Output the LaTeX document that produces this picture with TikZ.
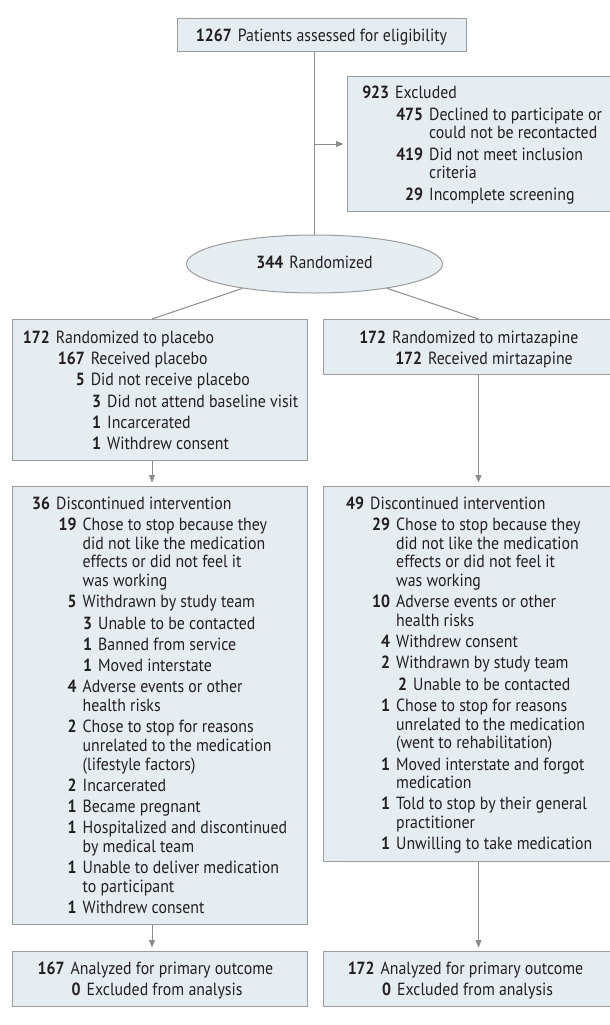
\documentclass[tikz,border=0pt]{standalone}
\usepackage{fontspec}
\setmainfont{PT Sans}[FakeStretch=0.9]
\usetikzlibrary{arrows.meta,shapes.geometric}
\definecolor{boxfill}{HTML}{E6EDF1}
\definecolor{boxline}{HTML}{9C9C9C}
\definecolor{conn}{HTML}{8C8C8C}
\definecolor{ink}{HTML}{231F20}
\newlength{\numgap}\setlength{\numgap}{6pt}
\newcommand{\ent}[3]{\par\noindent\hangindent=#1pt\hangafter=1\hspace*{#1pt}\llap{\textbf{#2}\hspace{\numgap}}#3}
\newcommand{\blist}[1]{\parbox[t]{400pt}{\fontsize{17.6}{18.6}\selectfont\raggedright\let\\\newline\setlength{\parskip}{2.7pt}#1}}
\tikzset{
  box/.style={draw=boxline, fill=boxfill, line width=1pt, inner sep=0pt, anchor=north west},
  txt/.style={inner sep=0pt, anchor=base west, text=ink},
  conn/.style={draw=conn, line width=1pt},
  arrow/.style={conn, -{Triangle[length=7.5pt,width=6pt]}, shorten >=3.5pt},
}
\begin{document}
\begin{tikzpicture}[x=1pt,y=-1pt, font=\fontsize{17.6}{18.6}\selectfont]
\useasboundingbox (0,0) rectangle (610,1025);
\coordinate (lcol) at (152,0);
\coordinate (rcol) at (478.5,0);
% top
\node[box, anchor=center, minimum width=289pt, minimum height=33pt, text=ink, text height=12.3pt, text depth=0pt] (top) at (321.5,35.5) {\textbf{1267}\hspace{\numgap}Patients assessed for eligibility};
% excluded
\node[box, minimum width=265pt, minimum height=135pt] (excl) at (347,76) {};
\node[txt] (exclt) at (347,99) {\blist{%
\ent{48}{923}{Excluded}
\ent{82}{475}{Declined to participate or\\could not be recontacted}
\ent{82}{419}{Did not meet inclusion\\criteria}
\ent{82}{29}{Incomplete screening}}};
% randomized
\node[draw=boxline, fill=boxfill, line width=1pt, ellipse, minimum width=256pt, minimum height=58pt, inner sep=0pt, text=ink, text height=12.3pt, text depth=3pt] (rand) at (314.5,264) {\textbf{344}\hspace{\numgap}Randomized};
% arm boxes 1
\node[box, minimum width=295pt, minimum height=141pt] (pl1) at (12,319) {};
\node[txt] (pl1t) at (12,343.3) {\blist{%
\ent{43.6}{172}{Randomized to placebo}
\ent{78.6}{167}{Received placebo}
\ent{78.6}{5}{Did not receive placebo}
\ent{95}{3}{Did not attend baseline visit}
\ent{95}{1}{Incarcerated}
\ent{95}{1}{Withdrew consent}}};
\node[box, minimum width=290pt, minimum height=55pt] (mi1) at (323,319) {};
\node[txt] (mi1t) at (323,343.3) {\blist{%
\ent{69}{172}{Randomized to mirtazapine}
\ent{105}{172}{Received mirtazapine}}};
% arm boxes 2
\node[box, minimum width=295pt, minimum height=438pt] (pl2) at (12,486) {};
\node[txt] (pl2t) at (12,509.3) {\blist{%
\ent{44}{36}{Discontinued intervention}
\ent{70.5}{19}{Chose to stop because they\\did not like the medication\\effects or did not feel it\\was working}
\ent{70.5}{5}{Withdrawn by study team}
\ent{86}{3}{Unable to be contacted}
\ent{86}{1}{Banned from service}
\ent{86}{1}{Moved interstate}
\ent{70.5}{4}{Adverse events or other\\health risks}
\ent{70.5}{2}{Chose to stop for reasons\\unrelated to the medication\\(lifestyle factors)}
\ent{70.5}{2}{Incarcerated}
\ent{70.5}{1}{Became pregnant}
\ent{70.5}{1}{Hospitalized and discontinued\\by medical team}
\ent{70.5}{1}{Unable to deliver medication\\to participant}
\ent{70.5}{1}{Withdrew consent}}};
\node[box, minimum width=290pt, minimum height=375pt] (mi2) at (323,486) {};
\node[txt] (mi2t) at (323,509.3) {\blist{%
\ent{47}{49}{Discontinued intervention}
\ent{73}{29}{Chose to stop because they\\did not like the medication\\effects or did not feel it\\was working}
\ent{73}{10}{Adverse events or other\\health risks}
\ent{73}{4}{Withdrew consent}
\ent{73}{2}{Withdrawn by study team}
\ent{90}{2}{Unable to be contacted}
\ent{73}{1}{Chose to stop for reasons\\unrelated to the medication\\(went to rehabilitation)}
\ent{73}{1}{Moved interstate and forgot\\medication}
\ent{73}{1}{Told to stop by their general\\practitioner}
\ent{73}{1}{Unwilling to take medication}}};
% analysis boxes
\node[box, minimum width=295pt, minimum height=55pt] (pl3) at (12,951) {};
\node[txt] (pl3t) at (12,974.3) {\blist{%
\ent{58.4}{167}{Analyzed for primary outcome}
\ent{74.4}{0}{Excluded from analysis}}};
\node[box, minimum width=290pt, minimum height=55pt] (mi3) at (323,951) {};
\node[txt] (mi3t) at (323,974.3) {\blist{%
\ent{57.5}{172}{Analyzed for primary outcome}
\ent{74}{0}{Excluded from analysis}}};
% connectors
\draw[conn] (top.south -| rand.north) -- (rand.north);
\draw[arrow] (excl.west -| rand.north) -- (excl.west);
\draw[conn] (rand) -- (pl1.north -| lcol);
\draw[conn] (rand) -- (mi1.north -| rcol);
\draw[arrow] (pl1.south -| lcol) -- (pl2.north -| lcol);
\draw[arrow] (mi1.south -| rcol) -- (mi2.north -| rcol);
\draw[arrow] (pl2.south -| lcol) -- (pl3.north -| lcol);
\draw[arrow] (mi2.south -| rcol) -- (mi3.north -| rcol);
\end{tikzpicture}
\end{document}
